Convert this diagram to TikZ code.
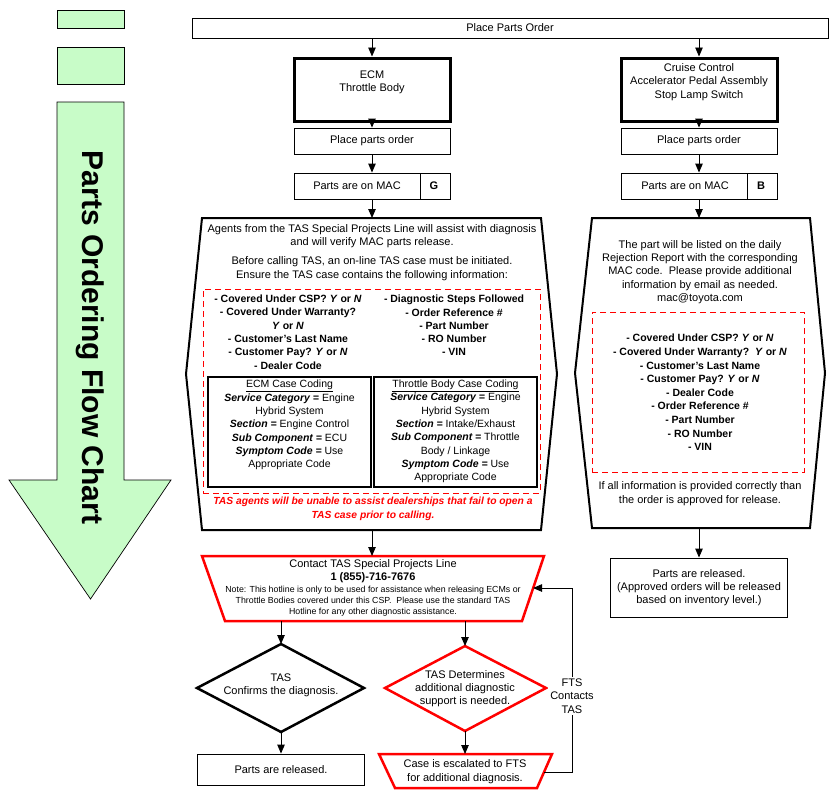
\documentclass[tikz,border=0pt]{standalone}
\usepackage{fontspec}
\setmainfont{Liberation Sans}
\usetikzlibrary{arrows.meta}
\definecolor{lgreen}{RGB}{200,252,200}
\definecolor{fred}{RGB}{255,0,0}
\newcommand{\fsz}[2]{\fontsize{#1}{#2}\selectfont}
\newcommand{\yn}{\textit{Y} or \textit{N}}
\newcommand{\bi}[1]{\textbf{\textit{#1}}}
\tikzset{
  box/.style={draw, line width=0.9pt, fill=white, inner sep=0pt, align=center, font=\fsz{11}{13.3}},
  thickbox/.style={draw, line width=3pt, fill=white, inner sep=0pt},
  txt/.style={inner sep=0pt, align=center, font=\fsz{11}{13.3}},
  lst/.style={inner sep=0pt, align=center, font=\fsz{10.5}{13.3}\bfseries},
  hexa/.style={draw, line width=2pt, fill=white, line join=miter},
  redshape/.style={draw=fred, line width=2.5pt, fill=white, line join=miter},
  blkdiamond/.style={draw, line width=2.5pt, fill=white, line join=miter},
  dashbox/.style={draw=fred, line width=0.9pt, dash pattern=on 6pt off 4pt},
  arr/.style={-{Triangle[length=9pt,width=7.5pt]}, line width=0.9pt},
  ln/.style={line width=0.9pt},
}
\begin{document}
\begin{tikzpicture}[x=1pt,y=-1pt]
\useasboundingbox (0,0) rectangle (834,798);

% ---- left title arrow ----
\draw[fill=lgreen, line width=0.7pt] (57,10) rectangle (124,28);
\draw[fill=lgreen, line width=0.7pt] (57,47) rectangle (124,84);
\draw[fill=lgreen, line width=0.7pt, line join=miter]
  (57,102) -- (124,102) -- (124,480) -- (171,480) -- (90.5,599) -- (9,480) -- (57,480) -- cycle;
\node[rotate=-90, anchor=base, inner sep=0pt, font=\fsz{30}{34}\bfseries] (title) at (82.5,337.5) {Parts Ordering Flow Chart};

% ---- top ----
\node[box, minimum width=636, minimum height=20] (top) at (510,28) {Place Parts Order};

% ---- left column boxes ----
\node[thickbox, minimum width=156, minimum height=63] (ecm) at (372,89.5) {};
\node[txt] (ecmt) at (372,82) {ECM\\Throttle Body};
\node[box, minimum width=156, minimum height=26] (ppo1) at (372,141) {Place parts order};
\node[box, minimum width=156, minimum height=26] (mac1) at (372,186) {};
\draw[ln] (420,173) -- (420,199);
\node[txt] (mac1t) at (357,186) {Parts are on MAC};
\node[txt, font=\fsz{11}{13}\bfseries] (mac1g) at (434,186) {G};

% ---- right column boxes ----
\node[thickbox, minimum width=156, minimum height=63] (cru) at (699,89.5) {};
\node[txt] (crut) at (699,82) {Cruise Control\\Accelerator Pedal Assembly\\Stop Lamp Switch};
\node[box, minimum width=156, minimum height=26] (ppo2) at (699,141) {Place parts order};
\node[box, minimum width=156, minimum height=26] (mac2) at (699,186) {};
\draw[ln] (747,173) -- (747,199);
\node[txt] (mac2t) at (685,186) {Parts are on MAC};
\node[txt, font=\fsz{11}{13}\bfseries] (mac2b) at (761,186) {B};

% ---- left hexagon ----
\coordinate (hLt) at (372,218);
\coordinate (hLb) at (372,530);
\draw[hexa] (202,218) -- (541,218) -- (557,374) -- (541,530) -- (202,530) -- (186,374) -- cycle;
\node[txt] (hL1) at (372,236.5) {Agents from the TAS Special Projects Line will assist with diagnosis\\and will verify MAC parts release.};
\node[txt] (hL2) at (372,268.5) {Before calling TAS, an on-line TAS case must be initiated.\\Ensure the TAS case contains the following information:};
\node[dashbox, minimum width=337, minimum height=204, inner sep=0pt] (dash1) at (371.5,391) {};
\node[lst] (listL) at (288,332) {- Covered Under CSP? \yn\\- Covered Under Warranty?\\\yn\\- Customer's Last Name\\- Customer Pay? \yn\\- Dealer Code};
\node[lst] (listR) at (454,325.5) {- Diagnostic Steps Followed\\- Order Reference \#\\- Part Number\\- RO Number\\- VIN};
\node[box, line width=1.1pt, minimum width=163, minimum height=110] (ccL) at (289.5,432) {};
\node[box, line width=1.1pt, minimum width=163, minimum height=110] (ccR) at (455.5,432) {};
\node[txt, font=\fsz{10.5}{13.3}] (ccLt) at (289.5,425) {\underline{ECM Case Coding}\\\bi{Service Category =} Engine\\Hybrid System\\\bi{Section =} Engine Control\\\bi{Sub Component =} ECU\\\bi{Symptom Code =} Use\\Appropriate Code};
\node[txt, font=\fsz{10.5}{13.3}] (ccRt) at (455.5,431.5) {\underline{Throttle Body Case Coding}\\\bi{Service Category =} Engine\\Hybrid System\\\bi{Section =} Intake/Exhaust\\\bi{Sub Component =} Throttle\\Body / Linkage\\\bi{Symptom Code =} Use\\Appropriate Code};
\node[txt, text=fred, font=\fsz{10.3}{13.5}\bfseries\itshape] (warn) at (373,509) {TAS agents will be unable to assist dealerships that fail to open a\\TAS case prior to calling.};

% ---- right hexagon ----
\coordinate (hRt) at (699,218);
\coordinate (hRb) at (699,528);
\draw[hexa] (592,218) -- (810,218) -- (825,373) -- (810,528) -- (592,528) -- (575,373) -- cycle;
\node[txt] (hR1) at (700,272) {The part will be listed on the daily\\Rejection Report with the corresponding\\MAC code.\ \ Please provide additional\\information by email as needed.\\mac@toyota.com};
\node[dashbox, minimum width=212, minimum height=160, inner sep=0pt] (dash2) at (698,392) {};
\node[lst, font=\fsz{10.5}{13.6}\bfseries] (listR2) at (700,392.5) {- Covered Under CSP? \yn\\- Covered Under Warranty?\ \ \yn\\- Customer's Last Name\\- Customer Pay? \yn\\- Dealer Code\\- Order Reference \#\\- Part Number\\- RO Number\\- VIN};
\node[txt] (hR2) at (700,493.5) {If all information is provided correctly than\\the order is approved for release.};

\node[box, minimum width=177, minimum height=59] (rel2) at (699,587.5) {Parts are released.\\(Approved orders will be released\\based on inventory level.)};

% ---- contact trapezoid ----
\coordinate (ctTop) at (372,556);
\coordinate (ctB1) at (281,621);
\coordinate (ctB2) at (465,621);
\coordinate (ctR) at (533,588);
\draw[redshape] (202,556) -- (544,556) -- (522,621) -- (225,621) -- cycle;
\node[txt] (ct1) at (373,565) {Contact TAS Special Projects Line};
\node[txt, font=\fsz{11}{13}\bfseries] (ct2) at (373,578) {1 (855)-716-7676};
\node[txt, font=\fsz{8.8}{11}] (ct3) at (373,601) {Note: This hotline is only to be used for assistance when releasing ECMs or\\Throttle Bodies covered under this CSP.\ \ Please use the standard TAS\\Hotline for any other diagnostic assistance.};

% ---- diamonds ----
\coordinate (dLt) at (281,644);
\coordinate (dLb) at (281,732);
\draw[blkdiamond] (281,644) -- (364,688) -- (281,732) -- (197,688) -- cycle;
\node[txt] (dLtx) at (281,685) {TAS\\Confirms the diagnosis.};
\coordinate (dRt) at (465,646);
\coordinate (dRb) at (465,731);
\draw[redshape] (465,646) -- (546,688) -- (465,731) -- (385,688) -- cycle;
\node[txt] (dRtx) at (465,688.5) {TAS Determines\\additional diagnostic\\support is needed.};

% ---- bottom ----
\node[box, minimum width=167, minimum height=31] (rel1) at (281,769.5) {Parts are released.};
\coordinate (escT) at (465,754);
\coordinate (escR) at (544,772);
\draw[redshape] (379,754) -- (552,754) -- (537,788) -- (395,788) -- cycle;
\node[txt] (esct) at (465,771.5) {Case is escalated to FTS\\for additional diagnosis.};

% ---- connectors ----
\draw[arr] (top.south -| ecm.north) -- (ecm.north);
\draw[arr] (top.south -| cru.north) -- (cru.north);
\draw[arr] (ecm.south) -- (ppo1.north);
\draw[arr] (ppo1.south) -- (mac1.north);
\draw[arr] (mac1.south) -- (hLt);
\draw[arr] (cru.south) -- (ppo2.north);
\draw[arr] (ppo2.south) -- (mac2.north);
\draw[arr] (mac2.south) -- (hRt);
\draw[arr] (hLb) -- (ctTop);
\draw[arr] (hRb) -- (rel2.north);
\draw[arr] (ctB1) -- (dLt);
\draw[arr] (ctB2) -- (dRt);
\draw[arr] (dLb) -- (rel1.north);
\draw[arr] (dRb) -- (escT);
\draw[arr] (escR) -- (572,772) -- (572,588) -- (ctR);
\node[txt, fill=white, inner sep=2pt] (fts) at (572,696) {FTS\\Contacts\\TAS};
\end{tikzpicture}
\end{document}
